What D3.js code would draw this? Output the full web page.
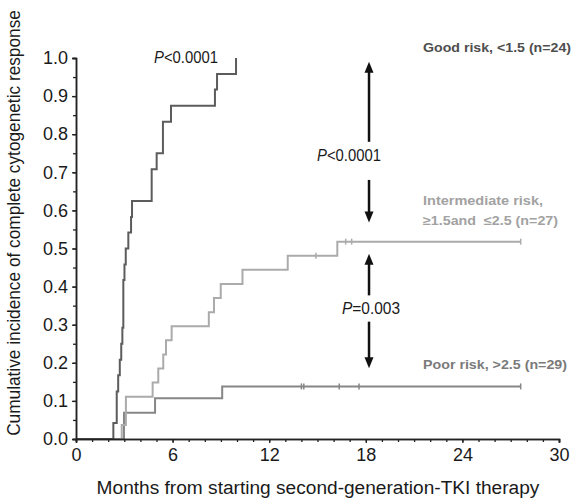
<!DOCTYPE html>
<html lang="en">
<head>
<meta charset="utf-8">
<title>Cumulative incidence of CCyR</title>
<script src="https://d3js.org/d3.v7.min.js"></script>
<style>
body { margin: 0; background: #fff; }
text { font-family: "Liberation Sans", Arial, sans-serif; }
.grp { font-weight: bold; font-size: 12.5px; }
</style>
</head>
<body>
<script>
// Width and height
const w = 574;
const h = 502;

// axis ticks
const xLabels = [0, 6, 12, 18, 24, 30];
const yLabels = [0, 0.1, 0.2, 0.3, 0.4, 0.5, 0.6, 0.7, 0.8, 0.9, 1.0];

// step curves: event month and cumulative incidence after the step
const goodMonths = [2.32, 2.53, 2.62, 2.72, 2.81, 2.88, 2.94, 3.01, 3.09, 3.25, 3.42, 3.48, 4.70, 5.01, 5.40, 5.90, 8.63, 8.76, 9.94];
const goodCIR    = [0.042, 0.125, 0.167, 0.208, 0.25, 0.292, 0.417, 0.458, 0.5, 0.542, 0.583, 0.625, 0.708, 0.75, 0.833, 0.875, 0.917, 0.958, 1.0];

const interMonths = [2.84, 3.10, 4.76, 5.11, 5.42, 5.59, 5.94, 8.25, 8.57, 8.99, 10.34, 13.15, 16.23];
const interCIR    = [0.037, 0.111, 0.148, 0.185, 0.222, 0.259, 0.296, 0.333, 0.370, 0.407, 0.444, 0.481, 0.518];
const interCensor = [14.9, 16.75, 17.12, 27.62];

const poorMonths = [2.98, 4.91, 9.08];
const poorCIR    = [0.069, 0.107, 0.138];
const poorCensor = [14.0, 14.15, 16.35, 17.58, 27.62];

const followUpEnd = 27.62;

var x = d3.scaleLinear().domain([0, 30]).range([76, 559]);
var y = d3.scaleLinear().domain([0, 1]).range([439, 58]);

var svg = d3.select("body").append("svg")
	.attr("width", w)
	.attr("height", h);

// build step points starting at (0,0)
function steps(months, cir, end) {
	var pts = [[0, 0]];
	for (var i = 0; i < months.length; i++) pts.push([months[i], cir[i]]);
	if (end != null) pts.push([end, cir[cir.length - 1]]);
	return pts;
}

var line = d3.line()
	.x(function(d) { return x(d[0]); })
	.y(function(d) { return y(d[1]); })
	.curve(d3.curveStepAfter);

// last value of a step curve at month m
function valueAt(months, cir, m) {
	var v = 0;
	for (var i = 0; i < months.length; i++) if (months[i] <= m) v = cir[i];
	return v;
}

var curves = [
	{ months: poorMonths, cir: poorCIR, censor: poorCensor, end: followUpEnd, color: "#868686" },
	{ months: interMonths, cir: interCIR, censor: interCensor, end: followUpEnd, color: "#ababab" },
	{ months: goodMonths, cir: goodCIR, censor: [], end: null, color: "#5c5c5c" }
];

curves.forEach(function(c) {
	svg.append("path")
		.attr("d", line(steps(c.months, c.cir, c.end)))
		.attr("fill", "none")
		.attr("stroke", c.color)
		.attr("stroke-width", 2);
	svg.selectAll(null)
		.data(c.censor)
		.enter()
		.append("line")
		.attr("x1", function(d) { return x(d); })
		.attr("x2", function(d) { return x(d); })
		.attr("y1", function(d) { return y(valueAt(c.months, c.cir, d)) - 3; })
		.attr("y2", function(d) { return y(valueAt(c.months, c.cir, d)) + 3; })
		.attr("stroke", c.color)
		.attr("stroke-width", 1.5);
});

// x axis: minor ticks every month, labels every 6
var xAxis = svg.append("g").attr("transform", "translate(0," + y(0) + ")");
xAxis.call(d3.axisBottom(x).ticks(30).tickSize(3).tickFormat(""));
xAxis.append("g").call(d3.axisBottom(x).tickValues(xLabels).tickSize(4).tickPadding(5).tickFormat(d3.format("d")));
xAxis.selectAll(".domain").attr("stroke", "#222").attr("stroke-width", 1.5);
xAxis.selectAll(".tick line").attr("stroke", "#222").attr("stroke-width", 1.3);
xAxis.selectAll("text").attr("font-size", 18).attr("fill", "#1a1a1a")
	.attr("font-family", "'Liberation Sans', Arial, sans-serif");

// y axis: minor ticks every 0.05, labels every 0.1
var yAxis = svg.append("g").attr("transform", "translate(" + x(0) + ",0)");
yAxis.call(d3.axisLeft(y).ticks(20).tickSize(3).tickFormat(""));
yAxis.append("g").call(d3.axisLeft(y).tickValues(yLabels).tickSize(4).tickPadding(4).tickFormat(d3.format(".1f")));
yAxis.selectAll(".domain").attr("stroke", "#222").attr("stroke-width", 1.5);
yAxis.selectAll(".tick line").attr("stroke", "#222").attr("stroke-width", 1.3);
yAxis.selectAll("text").attr("font-size", 18).attr("fill", "#1a1a1a")
	.attr("font-family", "'Liberation Sans', Arial, sans-serif");

// axis titles, squeezed horizontally to look condensed
function condensedTitle(str, tx, ty, angle, width) {
	var g = svg.append("g");
	var t = g.append("text")
		.attr("text-anchor", "middle")
		.attr("font-size", 19)
		.attr("fill", "#1a1a1a")
		.text(str);
	var k = width / t.node().getComputedTextLength();
	g.attr("transform", "translate(" + tx + "," + ty + ") rotate(" + angle + ") scale(" + k + ",1)");
}
condensedTitle("Months from starting second-generation-TKI therapy", 318, 494, 0, 443);
condensedTitle("Cumulative incidence of complete cytogenetic response", 20, 223, -90, 426);

// group labels
var groups = [
	{ lines: ["Good risk, <1.5 (n=24)"], widths: [148], y: 52, color: "#4e4e4e" },
	{ lines: ["Intermediate risk,", "\u22651.5and  \u22642.5 (n=27)"], widths: [120, 135], y: 205, color: "#a2a2a2" },
	{ lines: ["Poor risk, >2.5 (n=29)"], widths: [144], y: 369, color: "#7a7a7a" }
];
groups.forEach(function(g) {
	var t = svg.append("text").attr("class", "grp")
		.attr("x", 423).attr("y", g.y)
		.attr("fill", g.color)
		.style("white-space", "pre");
	g.lines.forEach(function(s, i) {
		t.append("tspan").attr("x", 423).attr("dy", i ? 20 : 0)
			.attr("textLength", g.widths[i])
			.attr("lengthAdjust", "spacingAndGlyphs")
			.text(s);
	});
});

// p-value labels
function pLabel(px, py, rest, len) {
	var t = svg.append("text").attr("x", px).attr("y", py)
		.attr("font-size", 17).attr("fill", "#1a1a1a")
		.attr("textLength", len)
		.attr("lengthAdjust", "spacingAndGlyphs");
	t.append("tspan").attr("font-style", "italic").text("P");
	t.append("tspan").text(rest);
}
pLabel(154, 63, "<0.0001", 64);
pLabel(317, 161, "<0.0001", 64);
pLabel(342, 314, "=0.003", 58);

// arrows at 18 months
const arrowX = 18.2;
const arrows = [
	{ from: 0.78, to: 0.99 },
	{ from: 0.68, to: 0.568 },
	{ from: 0.377, to: 0.486 },
	{ from: 0.308, to: 0.186 }
];
arrows.forEach(function(a) {
	var ax = x(arrowX), y0 = y(a.from), y1 = y(a.to);
	var dir = y1 < y0 ? 1 : -1;
	svg.append("line")
		.attr("x1", ax).attr("x2", ax)
		.attr("y1", y0).attr("y2", y1 + dir * 8)
		.attr("stroke", "#111").attr("stroke-width", 2.5);
	svg.append("path")
		.attr("d", "M" + ax + "," + y1 + "L" + (ax - 4.5) + "," + (y1 + dir * 11) + "L" + (ax + 4.5) + "," + (y1 + dir * 11) + "Z")
		.attr("fill", "#111");
});
</script>
</body>
</html>
